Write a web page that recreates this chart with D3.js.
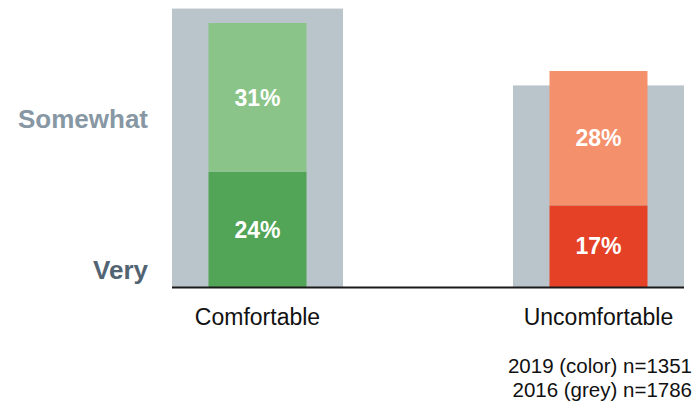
<!DOCTYPE html>
<html>
<head>
<meta charset="utf-8">
<script src="https://cdn.jsdelivr.net/npm/d3@7"></script>
<style>
  html, body { margin: 0; padding: 0; background: #fff; }
  svg { display: block; font-family: "Liberation Sans", Arial, Helvetica, sans-serif; }
</style>
</head>
<body>
<svg id="chart" width="693" height="403"></svg>
<script>
// Comfort levels, 2019 survey (coloured) against 2016 totals (grey)
const categories = ["Comfortable", "Uncomfortable"];
const very2019 = [24, 17];
const somewhat2019 = [31, 28];
const total2016 = [58, 42];
const levelLabels = ["Somewhat", "Very"];
const noteLines = ["2019 (color) n=1351", "2016 (grey) n=1786"];

const veryColors = ["#52a457", "#e54127"];
const somewhatColors = ["#8ac488", "#f4906c"];
const greyColor = "#b9c4cb";

const svg = d3.select("#chart");
const baseY = 287;

const x = d3.scalePoint().domain(categories).range([257.5, 598.5]);
const y = d3.scaleLinear().domain([0, 60]).range([baseY, baseY - 288]);

const greyW = 171, barW = 98;

const rows = categories.map((c, i) => ({
  cat: c, very: very2019[i], somewhat: somewhat2019[i], total: total2016[i], i
}));

// 2016 background bars
svg.append("g").selectAll("rect").data(rows).join("rect")
  .attr("x", d => x(d.cat) - greyW / 2)
  .attr("width", greyW)
  .attr("y", d => y(d.total))
  .attr("height", d => y(0) - y(d.total))
  .attr("fill", greyColor);

// 2019 stacked bars
const fg = svg.append("g");
fg.selectAll("rect.very").data(rows).join("rect").attr("class", "very")
  .attr("x", d => x(d.cat) - barW / 2)
  .attr("width", barW)
  .attr("y", d => y(d.very))
  .attr("height", d => y(0) - y(d.very))
  .attr("fill", d => veryColors[d.i]);
fg.selectAll("rect.some").data(rows).join("rect").attr("class", "some")
  .attr("x", d => x(d.cat) - barW / 2)
  .attr("width", barW)
  .attr("y", d => y(d.very + d.somewhat))
  .attr("height", d => y(d.very) - y(d.very + d.somewhat))
  .attr("fill", d => somewhatColors[d.i]);

// value labels
const lab = svg.append("g")
  .attr("fill", "#fff")
  .attr("font-weight", "bold")
  .attr("font-size", 23)
  .attr("text-anchor", "middle");
lab.selectAll("text.v").data(rows).join("text").attr("class", "v")
  .attr("x", d => x(d.cat))
  .attr("y", d => y(d.very / 2))
  .attr("dy", "0.36em")
  .text(d => d.very + "%");
lab.selectAll("text.s").data(rows).join("text").attr("class", "s")
  .attr("x", d => x(d.cat))
  .attr("y", d => y(d.very + d.somewhat / 2))
  .attr("dy", "0.36em")
  .text(d => d.somewhat + "%");

// baseline
svg.append("line")
  .attr("x1", x(categories[0]) - greyW / 2)
  .attr("x2", x(categories[1]) + greyW / 2)
  .attr("y1", baseY + 0.5).attr("y2", baseY + 0.5)
  .attr("stroke", "#1a1a1a").attr("stroke-width", 2);

// category axis labels
svg.append("g").selectAll("text").data(categories).join("text")
  .attr("x", d => x(d))
  .attr("y", 325)
  .attr("text-anchor", "middle")
  .attr("font-size", 23)
  .attr("fill", "#111")
  .text(d => d);

// level labels on the left
svg.append("text")
  .attr("x", 148).attr("y", 128)
  .attr("text-anchor", "end")
  .attr("font-size", 26).attr("font-weight", "bold")
  .attr("fill", "#8797a3")
  .text(levelLabels[0]);
svg.append("text")
  .attr("x", 148).attr("y", 279)
  .attr("text-anchor", "end")
  .attr("font-size", 26).attr("font-weight", "bold")
  .attr("fill", "#526473")
  .text(levelLabels[1]);

// sample note
svg.append("g").selectAll("text").data(noteLines).join("text")
  .attr("x", 692)
  .attr("y", (d, i) => 373 + i * 24)
  .attr("text-anchor", "end")
  .attr("font-size", 20.5)
  .attr("fill", "#111")
  .text(d => d);
</script>
</body>
</html>
